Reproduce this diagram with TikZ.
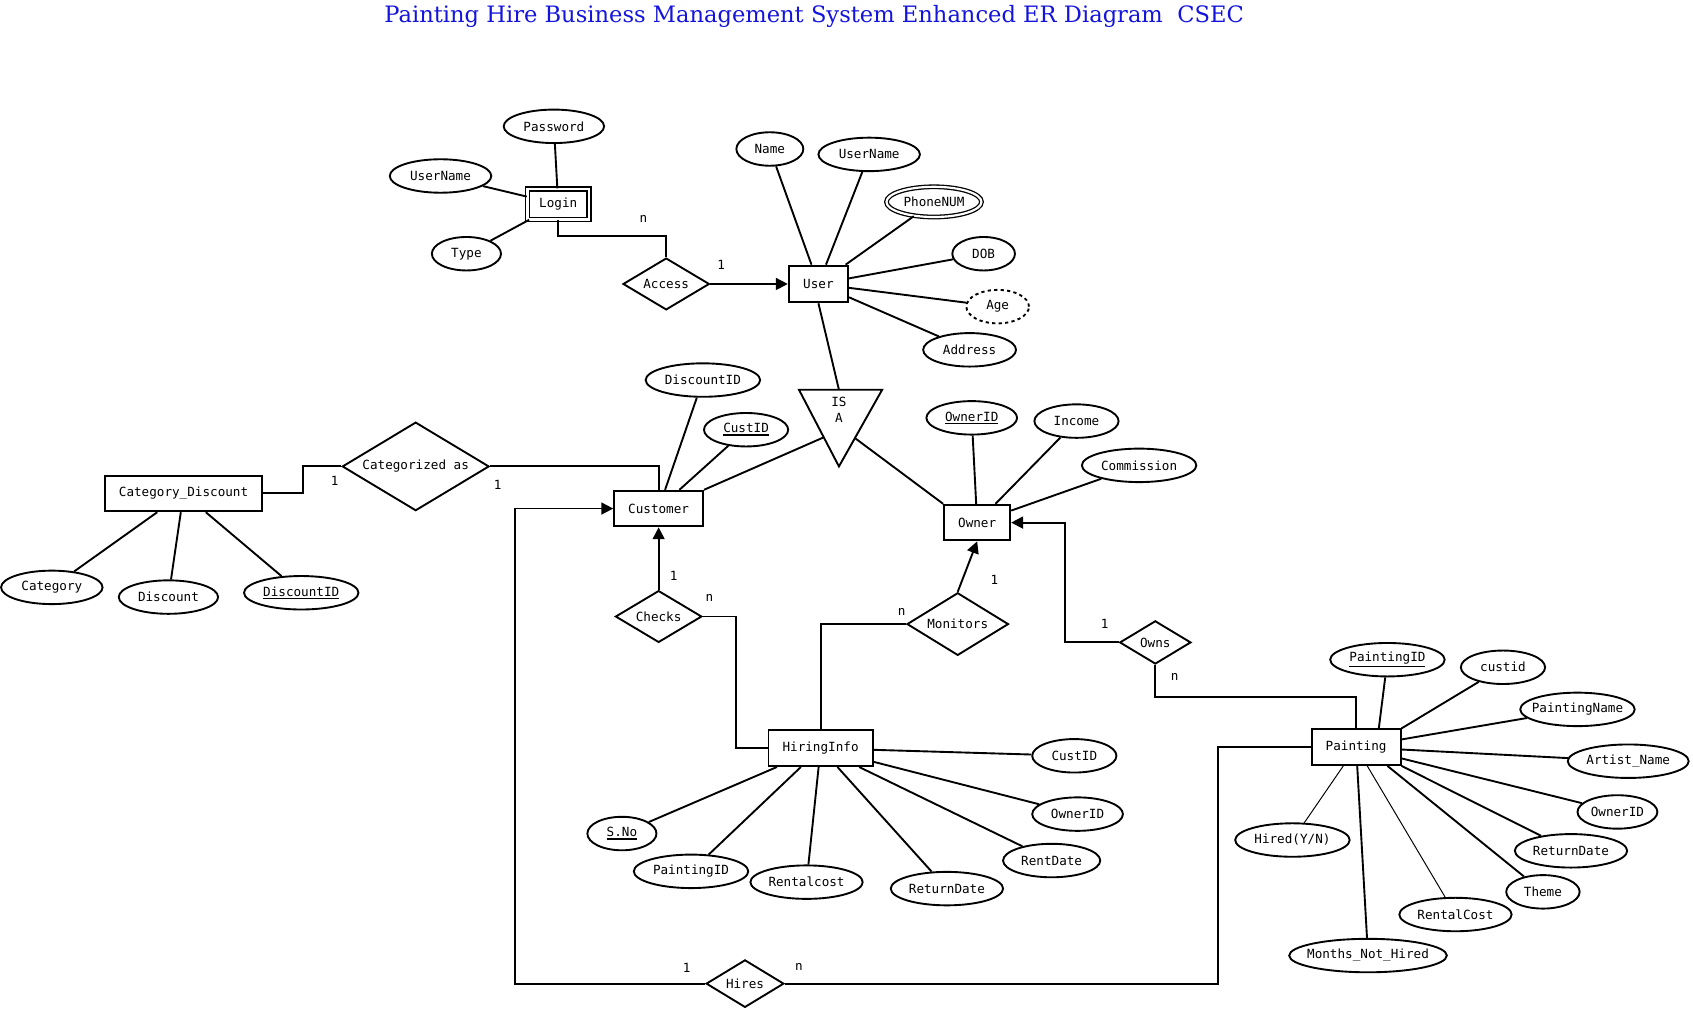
\documentclass[tikz,border=0pt]{standalone}
\usepackage{fontspec}
\setmainfont{DejaVu Sans Mono}
\newfontfamily\titlefont{DejaVu Serif}
\usetikzlibrary{shapes.geometric,arrows.meta,calc}
\definecolor{titleblue}{RGB}{20,20,220}
\newcommand{\ztxt}[1]{\makebox[0pt]{#1}}
\newcommand{\uln}[1]{\leavevmode\vtop{\hbox{#1}\kern1.2pt\hrule height 1.3pt}}
\begin{document}
\begin{tikzpicture}[x=1pt,y=-1pt, line width=1.75pt,
  font=\fontsize{11.7}{13}\selectfont,
  ent/.style={draw, rectangle, minimum height=33, inner xsep=13, inner ysep=0},
  attr/.style={draw, ellipse, minimum width=#1, minimum height=31, inner sep=0},
  rel/.style 2 args={draw, diamond, minimum width=#1, minimum height=#2, inner sep=0},
  lbl/.style={inner sep=0},
  thin line/.style={line width=0.9pt},
  arr/.style={-{Triangle[length=11pt,width=11pt]}},
]
\useasboundingbox[fill=white] (0,0) rectangle (1568,936);

% title
\node[lbl, anchor=base, text=titleblue, font=\titlefont] (title) at (754,21)
  {\resizebox{796pt}{!}{Painting Hire Business Management System Enhanced ER Diagram\ \ CSEC}};

% Login cluster
\node[draw, double, double distance=2.5pt, line width=1.2pt, minimum width=57, minimum height=28, inner sep=0] (login) at (517,189) {\ztxt{Login}};
\node[attr=93] (pw) at (513,117) {\ztxt{Password}};
\node[attr=94] (lun) at (408,163) {\ztxt{UserName}};
\node[attr=64] (ltype) at (432,235) {\ztxt{Type}};
\draw (pw) -- (login);
\draw (lun) -- (login);
\draw (ltype) -- (login);

\node[rel={80}{48}] (access) at (617,263) {\ztxt{Access}};

% User cluster
\node[ent, minimum width=55, minimum height=34] (user) at (758,263) {User};
\node[attr=62] (uname) at (713,138) {\ztxt{Name}};
\node[attr=94] (uun) at (805,143) {\ztxt{UserName}};
\node[draw, ellipse, double, double distance=2pt, line width=1.2pt, minimum width=88, minimum height=28, inner sep=0] (uphone) at (865,187) {\ztxt{PhoneNUM}};
\node[attr=58] (udob) at (911,235) {\ztxt{DOB}};
\node[attr=58, dashed] (uage) at (924,284) {\ztxt{Age}};
\node[attr=86] (uaddr) at (898,324) {\ztxt{Address}};
\foreach \a in {uname,uun,uphone,udob,uage,uaddr} \draw (\a) -- (user);

\draw (login.south) -- ++(0,15) -| (access.north);
\draw[arr] (access.east) -- (user.west);
\node[lbl] (c1) at (596,203) {n};
\node[lbl] (c2) at (668,245) {1};

% ISA
\coordinate (isaL) at (740,361);
\coordinate (isaR) at (817,361);
\coordinate (isaB) at (777,432);
\coordinate (isaT) at (777,361);
\coordinate (isaCl) at ($(isaL)!0.62!(isaB)$);
\coordinate (isaCr) at ($(isaR)!0.63!(isaB)$);
\draw (isaL) -- (isaR) -- (isaB) -- cycle;
\node[lbl] (isa1) at (777,372) {IS};
\node[lbl] (isa2) at (777,387) {A};
\draw (user.south) -- (isaT);

% Customer cluster
\node[ent] (customer) at (610,471) {Customer};
\node[attr=106] (cdid) at (651,352) {\ztxt{DiscountID}};
\node[attr=78] (ccid) at (691,398) {\ztxt{\uln{CustID}}};
\draw (cdid) -- (customer);
\draw (ccid) -- (customer);
\draw (isaCl) -- (customer.north east);

% Category
\node[rel={136}{82}] (cat) at (385,432) {\ztxt{Categorized as}};
\node[ent] (cd) at (170,457) {Category\_Discount};
\node[attr=94] (cdcat) at (48,544) {\ztxt{Category}};
\node[attr=92] (cddisc) at (156,553) {\ztxt{Discount}};
\node[attr=106] (cddid) at (279,549) {\ztxt{\uln{DiscountID}}};
\foreach \a in {cdcat,cddisc,cddid} \draw (\a) -- (cd);
\draw (cd.east) -- ++(37,0) |- (cat.west);
\draw (cat.east) -| (customer.north);
\node[lbl] (c3) at (310,445) {1};
\node[lbl] (c4) at (461,449) {1};

% Owner cluster
\node[ent] (owner) at (905,484) {Owner};
\node[attr=84] (oid) at (900,387) {\ztxt{\uln{OwnerID}}};
\node[attr=78] (oinc) at (997,390) {\ztxt{Income}};
\node[attr=106] (ocom) at (1055,431) {\ztxt{Commission}};
\foreach \a in {oid,oinc,ocom} \draw (\a) -- (owner);
\draw (isaCr) -- (owner.north west);

% Checks / HiringInfo / Monitors
\node[rel={80}{48}] (checks) at (610,571) {\ztxt{Checks}};
\node[ent] (hiring) at (760,693) {HiringInfo};
\node[rel={94}{58}] (monitors) at (887,578) {\ztxt{Monitors}};
\draw[arr] (checks.north) -- (customer.south);
\draw (checks.east) -- ++(31,0) |- (hiring.west);
\draw (hiring.north) |- (monitors.west);
\draw[arr] (monitors.north) -- (owner.south);
\node[lbl] (c5) at (624,533) {1};
\node[lbl] (c6) at (657,554) {n};
\node[lbl] (c7) at (835,567) {n};
\node[lbl] (c8) at (921,537) {1};

\node[attr=78] (hcust) at (995,700) {\ztxt{CustID}};
\node[attr=84] (howner) at (998,754) {\ztxt{OwnerID}};
\node[attr=90] (hrent) at (974,797) {\ztxt{RentDate}};
\node[attr=104] (hret) at (877,823) {\ztxt{ReturnDate}};
\node[attr=104] (hrc) at (747,817) {\ztxt{Rentalcost}};
\node[attr=106] (hpid) at (640,807) {\ztxt{PaintingID}};
\node[attr=64] (hsno) at (576,772) {\ztxt{\uln{S.No}}};
\foreach \a in {hcust,howner,hrent,hret,hrc,hpid,hsno} \draw (\a) -- (hiring);

% Owns / Painting
\node[rel={66}{40}] (owns) at (1070,595) {\ztxt{Owns}};
\node[ent] (painting) at (1256,692) {Painting};
\draw[arr] (owns.west) -- ++(-50,0) |- (owner.east);
\draw (owns.south) -- ++(0,30) -| (painting.north);
\node[lbl] (c9) at (1023,578) {1};
\node[lbl] (c10) at (1088,627) {n};

\node[attr=106] (pid) at (1285,611) {\ztxt{\uln{PaintingID}}};
\node[attr=78] (pcust) at (1392,618) {\ztxt{custid}};
\node[attr=106] (pname) at (1461,657) {\ztxt{PaintingName}};
\node[attr=112] (partist) at (1508,705) {\ztxt{Artist\_Name}};
\node[attr=74] (powner) at (1498,752) {\ztxt{OwnerID}};
\node[attr=104] (pret) at (1455,788) {\ztxt{ReturnDate}};
\node[attr=68] (ptheme) at (1429,826) {\ztxt{Theme}};
\node[attr=104] (prent) at (1348,847) {\ztxt{RentalCost}};
\node[attr=146] (pmonths) at (1267,885) {\ztxt{Months\_Not\_Hired}};
\node[attr=106] (phired) at (1197,778) {\ztxt{Hired(Y/N)}};
\draw (pid) -- ([xshift=21pt]painting.north);
\draw (pcust) -- (painting.north east);
\draw (pname) -- (painting);
\draw (partist) -- (painting);
\draw (powner) -- (painting);
\draw (pret) -- (painting.south east);
\draw (ptheme) -- ([xshift=29pt]painting.south);
\draw[thin line] (prent) -- (painting);
\draw (pmonths) -- (painting);
\draw[thin line] (phired) -- (painting);

% Hires
\node[rel={72}{44}] (hires) at (690,911) {\ztxt{Hires}};
\coordinate (hL) at (477,911);
\coordinate (hR) at (1128,911);
\draw[arr] (hires.west) -- (hL) |- (customer.west);
\draw (hires.east) -- (hR) |- (painting.west);
\node[lbl] (c11) at (636,896) {1};
\node[lbl] (c12) at (740,896) {n};
\end{tikzpicture}
\end{document}
